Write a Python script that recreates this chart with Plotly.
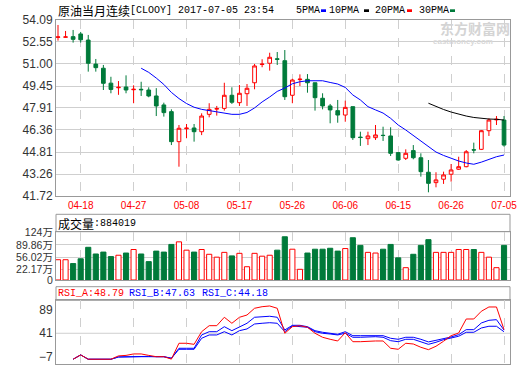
import plotly.graph_objects as go

# ---------------- data ----------------
dates = ["2017-04-13", "2017-04-14", "2017-04-17", "2017-04-18", "2017-04-19", "2017-04-20",
         "2017-04-21", "2017-04-24", "2017-04-25", "2017-04-26", "2017-04-27", "2017-04-28",
         "2017-05-01", "2017-05-02", "2017-05-03", "2017-05-04", "2017-05-05", "2017-05-08",
         "2017-05-09", "2017-05-10", "2017-05-11", "2017-05-12", "2017-05-15", "2017-05-16",
         "2017-05-17", "2017-05-18", "2017-05-19", "2017-05-22", "2017-05-23", "2017-05-24",
         "2017-05-25", "2017-05-26", "2017-05-29", "2017-05-30", "2017-05-31", "2017-06-01",
         "2017-06-02", "2017-06-05", "2017-06-06", "2017-06-07", "2017-06-08", "2017-06-09",
         "2017-06-12", "2017-06-13", "2017-06-14", "2017-06-15", "2017-06-16", "2017-06-19",
         "2017-06-20", "2017-06-21", "2017-06-22", "2017-06-23", "2017-06-26", "2017-06-27",
         "2017-06-28", "2017-06-29", "2017-06-30", "2017-07-03", "2017-07-04", "2017-07-05"]

open_ = [52.87, 52.88, 52.92, 53.11, 52.68, 50.99, 50.70, 49.65, 49.33, 49.38,
         49.19, 49.22, 49.17, 48.75, 48.12, 47.65, 45.54, 46.45, 46.50, 46.24,
         47.46, 47.83, 47.88, 48.80, 48.28, 48.91, 49.68, 50.96, 51.05, 51.36,
         51.23, 48.80, 49.90, 49.92, 49.68, 48.59, 48.05, 47.72, 47.41, 48.00,
         45.86, 45.75, 45.82, 45.99, 45.94, 44.77, 44.37, 44.91, 44.41, 43.39,
         42.66, 42.90, 43.25, 43.60, 43.78, 44.97, 45.00, 46.31, 47.07, 47.06]
high_ = [53.74, 53.32, 53.39, 53.25, 53.04, 51.35, 50.93, 50.10, 49.80, 50.20,
         49.50, 49.75, 49.36, 49.30, 48.28, 47.81, 46.71, 46.78, 46.78, 47.53,
         48.24, 48.05, 49.68, 49.36, 49.52, 49.59, 51.00, 51.33, 51.79, 51.84,
         51.98, 49.96, 50.27, 50.29, 49.68, 48.94, 48.19, 48.47, 48.42, 48.00,
         46.24, 46.24, 46.71, 46.59, 46.55, 44.81, 45.00, 45.30, 44.72, 44.25,
         43.39, 43.43, 43.97, 44.48, 44.95, 45.47, 46.36, 47.18, 47.34, 47.34]
low_ = [52.64, 52.86, 52.50, 52.50, 50.46, 50.46, 49.17, 48.94, 48.83, 48.94,
        48.24, 48.75, 48.66, 47.34, 47.30, 45.30, 43.78, 45.78, 45.54, 46.00,
        47.25, 47.37, 47.72, 48.19, 48.05, 48.05, 49.22, 50.77, 50.53, 50.93,
        48.47, 48.24, 49.45, 48.98, 47.72, 47.81, 46.83, 46.87, 46.94, 45.66,
        45.24, 45.30, 45.66, 45.59, 44.53, 44.20, 44.25, 44.30, 43.08, 41.98,
        42.33, 42.57, 42.73, 43.55, 43.74, 44.72, 44.95, 45.94, 46.71, 45.19]
close_ = [52.90, 52.90, 52.73, 52.70, 51.05, 50.74, 49.64, 49.21, 49.36, 49.17,
          49.22, 49.19, 48.75, 48.05, 47.58, 45.54, 46.48, 46.49, 46.24, 47.34,
          47.81, 47.86, 48.80, 48.31, 48.94, 49.29, 50.86, 50.99, 51.47, 51.33,
          48.70, 49.87, 49.93, 49.68, 48.63, 48.05, 47.77, 47.41, 47.95, 45.82,
          45.83, 45.94, 46.01, 45.97, 44.72, 44.25, 44.72, 44.41, 43.43, 42.61,
          42.85, 43.20, 43.55, 43.78, 44.83, 44.95, 46.31, 47.06, 47.11, 45.30]

# volume in 万 (10k)
volume = [49.4, 49.4, 39.0, 52.0, 83.2, 65.0, 70.2, 58.0, 61.6, 67.6,
          77.2, 65.0, 44.2, 72.8, 70.2, 91.0, 98.0, 75.4, 70.2, 77.2,
          64.2, 56.4, 69.4, 59.8, 66.8, 30.4, 66.8, 59.0, 61.6, 75.4,
          111.8, 78.0, 23.4, 67.6, 78.0, 78.0, 80.6, 72.8, 79.8, 109.2,
          88.4, 69.4, 67.6, 78.0, 91.0, 54.6, 27.8, 64.2, 88.4, 104.0,
          69.4, 69.4, 69.4, 77.2, 77.2, 77.2, 69.4, 56.4, 27.8, 88.4]

ma_blue = [None] * 11 + [
    50.70, 50.41, 50.01, 49.56, 49.00, 48.57, 48.22, 47.96, 47.81, 47.72,
    47.62, 47.52, 47.46, 47.46, 47.59, 47.91, 48.33, 48.68, 49.07, 49.31,
    49.61, 49.75, 49.82, 49.82, 49.82, 49.70, 49.59, 49.35, 48.82, 48.47,
    48.00, 47.77, 47.55, 47.18, 46.71, 46.36, 45.97, 45.55, 45.19, 44.81,
    44.57, 44.37, 44.18, 44.04, 43.95, 44.10, 44.30, 44.48, 44.60]
ma_black = [None] * 49 + [48.24, 48.00, 47.80, 47.62, 47.47, 47.34, 47.24, 47.17, 47.13, 47.11, 47.06]

rsi_a = [None, None, -13, -4, -13, -13, -13, -13, -6, -5, -2, -2, -5, -7.7, -7.7, -12.8,
         20.2, 20.2, 18, 44.3, 56.8, 56.8, 74.3, 61.8, 74.3, 79, 93, 96.3, 97.8, 93,
         41, 54.7, 56.8, 53.5, 41, 32.7, 28.5, 25, 42.2, 23.5, 23.5, 25, 25, 25, 9.8,
         7.7, 20.2, 18.7, 11.9, 6.9, 14, 24.4, 36, 41.6, 70.7, 70.7, 86.8, 95.7, 95.7, 48.79]
rsi_b = [None, None, -13, -4, -13, -13, -13, -13, -8.3, -7.7, -7, -7, -7, -7.7, -7.7, -11,
         9.8, 9.8, 9.8, 37.5, 44.3, 44.3, 54.7, 46.4, 54.7, 61.8, 74.3, 75.5, 76.4, 74.3,
         47.9, 57.6, 57.6, 54.7, 46.4, 43.1, 41, 38.9, 44.3, 36, 36, 36, 36, 36, 30.6,
         28.5, 32.7, 32.7, 28.5, 23, 26.4, 29.1, 33.3, 38.1, 48.5, 48.5, 62.4, 68, 69.3, 47.63]
rsi_c = [None, None, -13, -4, -13, -13, -13, -13, -8.3, -7.7, -7.7, -7.7, -7.7, -7.7, -7.7, -11,
         7.7, 7.7, 7.7, 30.6, 37.5, 37.5, 44.3, 37.5, 46.4, 50, 60.3, 61.8, 63, 61.8,
         44.3, 56.2, 54.7, 53.5, 44.3, 41, 39.5, 37.5, 41, 32.7, 32.7, 33.9, 33.9, 32.7, 25.6,
         23.5, 28.5, 28.5, 23.5, 18, 22.3, 27.7, 31.2, 34.8, 43.1, 43.1, 52, 55.6, 55.6, 44.18]

date_ticks = ["2017-04-18", "2017-04-27", "2017-05-08", "2017-05-17", "2017-05-26",
              "2017-06-06", "2017-06-15", "2017-06-26", "2017-07-05"]
date_labels = ["04-18", "04-27", "05-08", "05-17", "05-26", "06-06", "06-15", "06-26", "07-05"]
price_ticks = [41.72, 43.26, 44.81, 46.36, 47.91, 49.45, 51.00, 52.55, 54.09]
vol_ticks = [22.17, 56.02, 89.86, 124]
vol_labels = ["22.17万", "56.02万", "89.86万", "124万"]
rsi_ticks = [-7, 41, 89]

# ---------------- style ----------------
W, H = 520, 365
RED = "#ff0000"
GREEN = "#007a3a"
BLUE = "#0000ff"
BORDER = "#999999"
GRID = "#cfcfcf"
LEFT, RIGHT = 56, 510
VOL_MIN, VOL_MAX = -5.7, 125.6   # bottom of the volume panel is labelled "0"


def px(v):
    return v / W


def py(v):
    return 1 - v / H


up = [c >= o for o, c in zip(open_, close_)]

fig = go.Figure()
fig.add_trace(go.Candlestick(
    x=dates, open=open_, high=high_, low=low_, close=close_,
    xaxis="x", yaxis="y", whiskerwidth=0,
    increasing=dict(line=dict(color=RED, width=1), fillcolor="white"),
    decreasing=dict(line=dict(color=GREEN, width=1), fillcolor=GREEN),
    showlegend=False, hoverinfo="skip"))
fig.add_trace(go.Scatter(x=dates, y=ma_blue, mode="lines", line=dict(color=BLUE, width=1),
                         xaxis="x", yaxis="y", showlegend=False, hoverinfo="skip"))
fig.add_trace(go.Scatter(x=dates, y=ma_black, mode="lines", line=dict(color="#000000", width=1),
                         xaxis="x", yaxis="y", showlegend=False, hoverinfo="skip"))

fig.add_trace(go.Bar(
    x=dates, y=[v - VOL_MIN for v in volume], base=VOL_MIN, width=0.68, xaxis="x2", yaxis="y2",
    marker=dict(color=["white" if u else GREEN for u in up],
                line=dict(color=[RED if u else GREEN for u in up], width=1)),
    showlegend=False, hoverinfo="skip"))

for series, col in ((rsi_c, BLUE), (rsi_b, BLUE), (rsi_a, RED)):
    fig.add_trace(go.Scatter(x=dates, y=series, mode="lines", line=dict(color=col, width=1),
                             xaxis="x3", yaxis="y3", showlegend=False, hoverinfo="skip"))

xcommon = dict(type="category", domain=[px(LEFT), px(RIGHT)], range=[-0.265, 59.79],
               tickvals=date_ticks, ticktext=date_labels, showgrid=True, gridcolor=GRID,
               griddash="dash", gridwidth=1, showline=True, mirror=True, linecolor=BORDER,
               linewidth=1, ticks="", zeroline=False, fixedrange=True, automargin=False)
ycommon = dict(showline=True, mirror=True, linecolor=BORDER, linewidth=1, ticks="",
               zeroline=False, automargin=False, fixedrange=True, gridcolor=GRID, gridwidth=1)

fig.update_layout(
    template="none",
    width=W, height=H, margin=dict(l=0, r=0, t=0, b=0, pad=0, autoexpand=False),
    paper_bgcolor="white", plot_bgcolor="white",
    font=dict(family="Liberation Sans, Noto Sans CJK SC", size=12, color="#333333"),
    xaxis=dict(xcommon, anchor="y", rangeslider=dict(visible=False),
               tickfont=dict(family="Liberation Sans", size=10, color=RED)),
    yaxis=dict(ycommon, domain=[py(196), py(20)], range=[41.72, 54.09], tickvals=price_ticks,
               ticktext=["%.2f" % v for v in price_ticks], showgrid=True,
               tickfont=dict(size=12, color="#333333"), anchor="x"),
    xaxis2=dict(xcommon, anchor="y2", matches="x", showticklabels=False),
    yaxis2=dict(ycommon, domain=[py(280), py(231.7)], range=[VOL_MIN, VOL_MAX],
                tickvals=[VOL_MIN] + vol_ticks, ticktext=["0"] + vol_labels, showgrid=True,
                tickfont=dict(family="Liberation Sans, Noto Sans CJK SC", size=10.5, color="#333333"),
                anchor="x2"),
    xaxis3=dict(xcommon, anchor="y3", matches="x", showticklabels=False),
    yaxis3=dict(ycommon, domain=[py(364), py(300.3)], range=[-22.9, 109.6], tickvals=rsi_ticks,
                showgrid=False, tickfont=dict(size=12, color="#333333"), anchor="x3"),
    bargap=0.3,
)

shapes = []
# header boxes for volume and RSI panels
for top, bot in ((214.3, 231.7), (286.7, 300.3)):
    shapes.append(dict(type="rect", xref="paper", yref="paper", x0=px(LEFT), x1=px(RIGHT),
                       y0=py(bot), y1=py(top), line=dict(color=BORDER, width=1), layer="below"))
# RSI reference line at 41
shapes.append(dict(type="line", xref="paper", yref="y3", x0=px(LEFT), x1=px(RIGHT), y0=41, y1=41,
                   line=dict(color=GRID, width=1), layer="below"))
# legend swatches
for x0, col in ((321, BLUE), (364, "#000000"), (407, RED), (450, GREEN)):
    shapes.append(dict(type="rect", xref="paper", yref="paper", x0=px(x0), x1=px(x0 + 5),
                       y0=py(12), y1=py(9.3), fillcolor=col, line=dict(width=0)))
fig.update_layout(shapes=shapes)

MONO = "Liberation Mono"
CJK = "Noto Sans CJK SC"


def txt(x, y, s, family, size, color, **kw):
    d = dict(x=px(x), y=py(y), xref="paper", yref="paper", text=s, showarrow=False,
             xanchor="left", yanchor="middle", font=dict(family=family, size=size, color=color))
    d.update(kw)
    return d


ann = [
    txt(56, 10.5, "原油当月连续", CJK, 12, "#000000"),
    txt(128, 10.5, "[CLOOY] 2017-07-05 23:54", MONO, 10, "#000000"),
    txt(294, 10.5, "5PMA", MONO, 10, "#000000"),
    txt(327, 10.5, "10PMA", MONO, 10, "#000000"),
    txt(373, 10.5, "20PMA", MONO, 10, "#000000"),
    txt(417, 10.5, "30PMA", MONO, 10, "#000000"),
    txt(56, 223, "成交量", CJK, 12, "#000000"),
    txt(92, 223, ":884019", MONO, 10, "#000000"),
    txt(56, 293.5, "RSI_A:48.79", MONO, 10, RED),
    txt(127, 293.5, "RSI_B:47.63", MONO, 10, BLUE),
    txt(200, 293.5, "RSI_C:44.18", MONO, 10, BLUE),
    txt(438, 28, "<b>东方财富网</b>", CJK, 14, "#d4d4d4"),
    txt(431, 41.5, "<b>eastmoney.com</b>", "Liberation Sans", 8, "#d8d8d8"),
]
fig.update_layout(annotations=ann)

fig.write_html("out.html", config={"displayModeBar": False},
               post_script="document.body.style.margin='0';document.body.style.overflow='hidden';")
